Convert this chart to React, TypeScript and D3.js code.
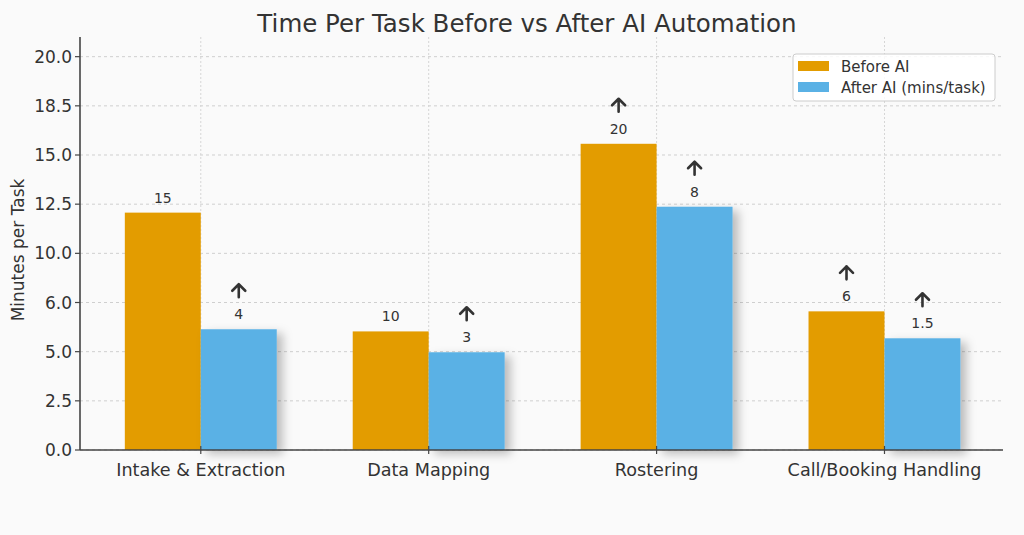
import React from "react";
import * as d3 from "d3";

const categories = ["Intake & Extraction", "Data Mapping", "Rostering", "Call/Booking Handling"];
const beforeValues = [12.07, 6.03, 15.57, 7.05];
const afterValues = [6.14, 4.97, 12.37, 5.68];
const beforeLabels = ["15", "10", "20", "6"];
const afterLabels = ["4", "3", "8", "1.5"];
const beforeArrows = [false, false, true, true];
const afterArrows = [true, true, true, true];
const yTickValues = [0, 2.5, 5, 7.5, 10, 12.5, 15, 17.5, 20];
const yTickLabels = ["0.0", "2.5", "5.0", "6.0", "10.0", "12.5", "15.0", "18.5", "20.0"];
const seriesNames = ["Before AI", "After AI (mins/task)"];

const W = 1024, H = 535;
const left = 80, right = 1003, top = 37, bottom = 450;
const ORANGE = "#E39C00";
const BLUE = "#5AB1E5";
const TXT = "#333333";
const FONT = "DejaVu Sans, sans-serif";

export default function App() {
  const x = d3.scaleLinear().domain([-0.53, 3.52]).range([left, right]);
  const y = d3.scaleLinear().domain([0, 21]).range([bottom, top]);
  const bw = x(1 / 3) - x(0);

  const arrow = (cx: number, by: number, key: string) => (
    <path key={key} d={`M${cx},${by} L${cx},${by - 13} M${cx - 6.5},${by - 6.5} L${cx},${by - 13} L${cx + 6.5},${by - 6.5}`}
      fill="none" stroke={TXT} strokeWidth={2.6} strokeLinecap="round" strokeLinejoin="round" />
  );

  const series = [
    { vals: beforeValues, labels: beforeLabels, arrows: beforeArrows, color: ORANGE, off: -bw },
    { vals: afterValues, labels: afterLabels, arrows: afterArrows, color: BLUE, off: 0 },
  ];

  return (
    <svg width={W} height={H} style={{ position: "absolute", left: 0, top: 0 }} fontFamily={FONT}>
      <defs>
        <filter id="sh" x="-20%" y="-20%" width="160%" height="140%">
          <feDropShadow dx="6" dy="4" stdDeviation="5" floodColor="#000" floodOpacity="0.25" />
        </filter>
      </defs>
      <rect x={0} y={0} width={W} height={H} fill="#FAFAFA" />
      {yTickValues.map((v, i) => (
        <line key={"gy" + i} x1={left} x2={right} y1={y(v)} y2={y(v)} stroke="#cfcfcf" strokeWidth={1} strokeDasharray="3,3" />
      ))}
      {categories.map((c, i) => (
        <line key={"gx" + i} x1={x(i)} x2={x(i)} y1={top} y2={bottom} stroke="#d6d6d6" strokeWidth={1} strokeDasharray="2,2" />
      ))}
      {series.map((s, si) =>
        s.vals.map((v, i) => (
          <rect key={"b" + si + "-" + i} x={x(i) + s.off} y={y(v)} width={bw} height={y(0) - y(v)} fill={s.color}
            filter={si === 1 ? "url(#sh)" : undefined} />
        ))
      )}
      {series.map((s, si) =>
        s.vals.map((v, i) => {
          const cx = x(i) + s.off + bw / 2;
          const ly = y(v) - 10;
          return (
            <g key={"l" + si + "-" + i}>
              <text x={cx} y={ly} textAnchor="middle" fontSize={14} fill={TXT}>{s.labels[i]}</text>
              {s.arrows[i] ? arrow(cx, ly - 22, "a") : null}
            </g>
          );
        })
      )}
      <line x1={left} x2={left} y1={top} y2={bottom} stroke="#444" strokeWidth={1.6} />
      <line x1={left} x2={right} y1={bottom} y2={bottom} stroke="#444" strokeWidth={1.6} />
      {yTickValues.map((v, i) => (
        <g key={"yt" + i}>
          <line x1={left - 5} x2={left} y1={y(v)} y2={y(v)} stroke="#444" strokeWidth={1.2} />
          <text x={left - 8} y={y(v)} dy="0.36em" textAnchor="end" fontSize={17} fill={TXT}>{yTickLabels[i]}</text>
        </g>
      ))}
      {categories.map((c, i) => (
        <g key={"xt" + i}>
          <line x1={x(i)} x2={x(i)} y1={bottom - 4} y2={bottom + 4} stroke="#444" strokeWidth={1.2} />
          <text x={x(i)} y={476} textAnchor="middle" fontSize={17.6} fill={TXT}>{c}</text>
        </g>
      ))}
      <text transform={`translate(23.5,250) rotate(-90)`} textAnchor="middle" fontSize={17} fill={TXT}>Minutes per Task</text>
      <text x={527} y={32} textAnchor="middle" fontSize={24.5} fill={TXT}>Time Per Task Before vs After AI Automation</text>
      <g>
        <rect x={793} y={54} width={202} height={47} rx={3} fill="#FFFFFF" fillOpacity={0.85} stroke="#cccccc" />
        <rect x={798} y={61} width={31} height={10} fill={ORANGE} />
        <rect x={798} y={82} width={31} height={10} fill={BLUE} />
        <text x={841} y={71.5} fontSize={15} fill={TXT}>{seriesNames[0]}</text>
        <text x={841} y={92.5} fontSize={15} fill={TXT}>{seriesNames[1]}</text>
      </g>
    </svg>
  );
}
